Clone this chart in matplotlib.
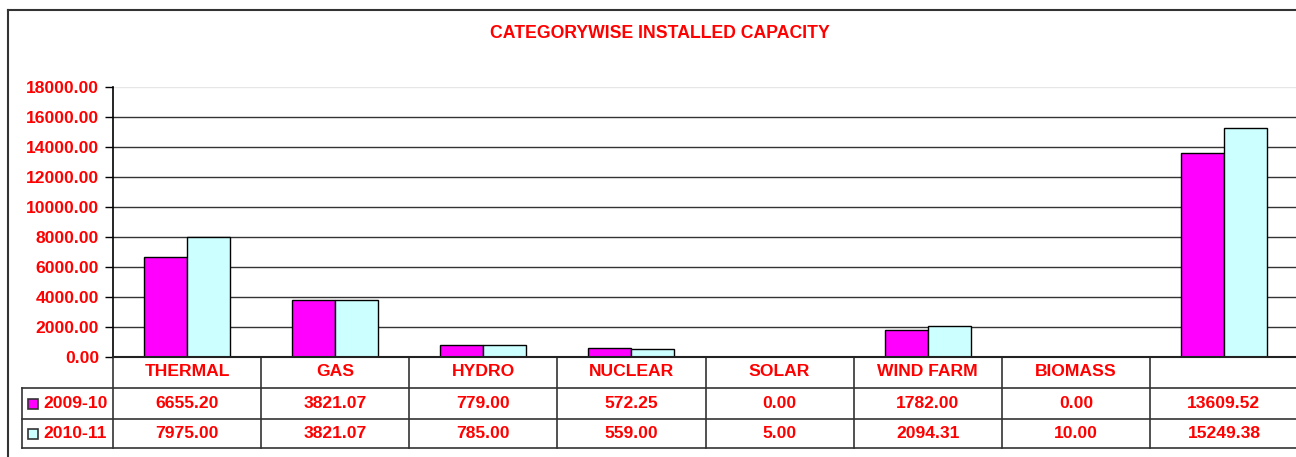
import matplotlib.pyplot as plt
from matplotlib.lines import Line2D
from matplotlib.patches import Rectangle

categories = ["THERMAL", "GAS", "HYDRO", "NUCLEAR", "SOLAR", "WIND FARM", "BIOMASS", ""]
series_names = ["2009-10", "2010-11"]
values_0910 = [6655.20, 3821.07, 779.00, 572.25, 0.00, 1782.00, 0.00, 13609.52]
values_1011 = [7975.00, 3821.07, 785.00, 559.00, 5.00, 2094.31, 10.00, 15249.38]
yticks = [0, 2000, 4000, 6000, 8000, 10000, 12000, 14000, 16000, 18000]

RED = "#ff0000"
colors = ["#ff00ff", "#ccffff"]
plt.rcParams["font.family"] = ["Liberation Sans", "DejaVu Sans"]
FS = 12.6

W, H = 1296, 457
fig = plt.figure(figsize=(W / 100, H / 100), dpi=100)

def fx(px):
    return px / W

def fy(py):
    return 1 - py / H

# plot area in pixels
left, right, top, bottom = 113, 1298, 87, 357
ax = fig.add_axes([fx(left), fy(bottom), fx(right) - fx(left), fy(top) - fy(bottom)])
ax.set_xlim(0, len(categories))
ax.set_ylim(0, 18000)

bw = 0.29
x = [i + 0.5 for i in range(len(categories))]
ax.bar([v - bw / 2 for v in x], values_0910, bw, color=colors[0], edgecolor="black", linewidth=1, zorder=2)
ax.bar([v + bw / 2 for v in x], values_1011, bw, color=colors[1], edgecolor="black", linewidth=1, zorder=2)

ax.set_yticks(yticks)
ax.set_yticklabels([f"{t:.2f}" for t in yticks], color=RED, fontsize=FS, fontweight="bold")
ax.tick_params(axis="y", length=6, width=1, pad=4)
ax.set_xticks([])
for t in yticks[1:-1]:
    ax.axhline(t, color="#333333", linewidth=1, zorder=1)
ax.axhline(18000, color="#e6e6e6", linewidth=1, zorder=1)
for s in ["top", "right"]:
    ax.spines[s].set_visible(False)
ax.spines["left"].set_linewidth(1.2)
ax.spines["bottom"].set_linewidth(1.5)
ax.spines["bottom"].set_color("#222222")
ax.spines["bottom"].set_zorder(4)

# overlay for table, border and title
ov = fig.add_axes([0, 0, 1, 1], zorder=-1)
ov.set_xlim(0, W)
ov.set_ylim(H, 0)
ov.axis("off")

def line(xs, ys, c="#333333", lw=1.2):
    ov.add_line(Line2D(xs, ys, color=c, linewidth=lw))

# outer border
line([8, 8], [10, H], c="#333333", lw=1.5)
line([8, W], [10, 10], c="#333333", lw=1.5)

ov.text(660, 33, "CATEGORYWISE INSTALLED CAPACITY", color=RED, fontsize=12.7,
        fontweight="bold", ha="center", va="center")

# table grid
row_y = [357, 388, 419, 448]
col_w = (right - left) / len(categories)
for yy in row_y[1:]:
    line([22, right], [yy, yy])
line([22, 22], [388, 448])
for i in range(len(categories) + 1):
    xx = left + i * col_w
    line([xx, xx], [357, 448])

for i, cat in enumerate(categories):
    cx = left + (i + 0.5) * col_w
    ov.text(cx, 372, cat, color=RED, fontsize=FS, fontweight="bold", ha="center", va="center")
    ov.text(cx, 404, f"{values_0910[i]:.2f}", color=RED, fontsize=FS, fontweight="bold", ha="center", va="center")
    ov.text(cx, 434, f"{values_1011[i]:.2f}", color=RED, fontsize=FS, fontweight="bold", ha="center", va="center")

for name, c, cy in zip(series_names, colors, [404, 434]):
    ov.add_patch(Rectangle((28, cy - 5), 10, 10, facecolor=c, edgecolor="#333333", linewidth=1.2))
    ov.text(43, cy, name, color=RED, fontsize=FS, fontweight="bold", ha="left", va="center")

fig.savefig("out.png", dpi=100)
